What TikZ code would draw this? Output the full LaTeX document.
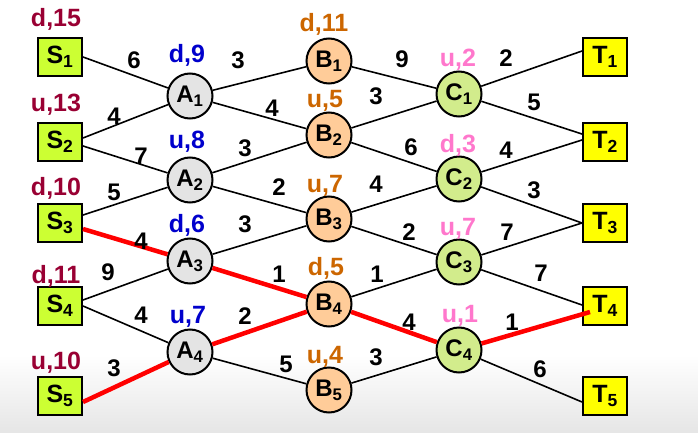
\documentclass[tikz,border=0pt]{standalone}
\usepackage{fontspec}
\setmainfont{Liberation Sans}
\usepackage{xcolor}

\definecolor{sgreen}{RGB}{204,255,51}
\definecolor{tyellow}{RGB}{255,255,0}
\definecolor{agray}{RGB}{228,228,228}
\definecolor{borange}{RGB}{255,204,153}
\definecolor{cgreen}{RGB}{210,236,140}
\definecolor{sred}{RGB}{153,0,51}
\definecolor{ablue}{RGB}{0,0,204}
\definecolor{bbrown}{RGB}{204,102,0}
\definecolor{cpink}{RGB}{255,119,204}
\definecolor{pathred}{RGB}{255,0,0}

\tikzset{
  box/.style={draw, line width=2pt, minimum width=44pt, minimum height=38pt,
    inner sep=0pt, font=\fontsize{25}{27}\selectfont\bfseries},
  sbox/.style={box, fill=sgreen},
  tbox/.style={box, fill=tyellow},
  circ/.style={circle, draw, line width=2pt, minimum size=45pt, inner sep=0pt,
    font=\fontsize{24}{26}\selectfont\bfseries},
  acirc/.style={circ, fill=agray},
  bcirc/.style={circ, fill=borange},
  ccirc/.style={circ, fill=cgreen},
  tag/.style={font=\fontsize{25}{27}\selectfont\bfseries, inner sep=0pt, anchor=base},
  wt/.style={font=\fontsize{24}{26}\selectfont\bfseries, inner sep=0pt},
  edge/.style={line width=1.6pt},
  hot/.style={line width=4.5pt, pathred}
}

\begin{document}
\begin{tikzpicture}[x=1pt, y=-1pt]
    \useasboundingbox (0,0) rectangle (698,433);
    % Background
    \shade[top color=white, bottom color=black!10] (0,355) rectangle (698,433);

    % Sources
    \node[sbox] (S1) at (60,57)  {S\textsubscript{1}};
    \node[sbox] (S2) at (60,142) {S\textsubscript{2}};
    \node[sbox] (S3) at (60,223) {S\textsubscript{3}};
    \node[sbox] (S4) at (60,306) {S\textsubscript{4}};
    \node[sbox] (S5) at (60,396) {S\textsubscript{5}};

    % Layer A
    \node[acirc] (A1) at (190,96)  {A\textsubscript{1}};
    \node[acirc] (A2) at (190,180) {A\textsubscript{2}};
    \node[acirc] (A3) at (190,261) {A\textsubscript{3}};
    \node[acirc] (A4) at (190,352) {A\textsubscript{4}};

    % Layer B
    \node[bcirc] (B1) at (329,61)  {B\textsubscript{1}};
    \node[bcirc] (B2) at (329,135) {B\textsubscript{2}};
    \node[bcirc] (B3) at (329,219) {B\textsubscript{3}};
    \node[bcirc] (B4) at (329,304) {B\textsubscript{4}};
    \node[bcirc] (B5) at (329,390) {B\textsubscript{5}};

    % Layer C
    \node[ccirc] (C1) at (459,94)  {C\textsubscript{1}};
    \node[ccirc] (C2) at (459,179) {C\textsubscript{2}};
    \node[ccirc] (C3) at (459,262) {C\textsubscript{3}};
    \node[ccirc] (C4) at (459,350) {C\textsubscript{4}};

    % Sinks
    \node[tbox] (T1) at (605,57)  {T\textsubscript{1}};
    \node[tbox] (T2) at (605,142) {T\textsubscript{2}};
    \node[tbox] (T3) at (605,223) {T\textsubscript{3}};
    \node[tbox] (T4) at (605,306) {T\textsubscript{4}};
    \node[tbox] (T5) at (605,396) {T\textsubscript{5}};

    % Tags
    \node[tag, sred] (tS1) at (56,27)  {d,15};
    \node[tag, sred] (tS2) at (56,112) {u,13};
    \node[tag, sred] (tS3) at (56,195) {d,10};
    \node[tag, sred] (tS4) at (56,283) {d,11};
    \node[tag, sred] (tS5) at (56,369) {u,10};
    \node[tag, ablue] (tA1) at (187,63)  {d,9};
    \node[tag, ablue] (tA2) at (187,148) {u,8};
    \node[tag, ablue] (tA3) at (187,232) {d,6};
    \node[tag, ablue] (tA4) at (188,323) {u,7};
    \node[tag, bbrown] (tB1) at (324,32)  {d,11};
    \node[tag, bbrown] (tB2) at (325,108) {u,5};
    \node[tag, bbrown] (tB3) at (325,192) {u,7};
    \node[tag, bbrown] (tB4) at (326,275) {d,5};
    \node[tag, bbrown] (tB5) at (325,363) {u,4};
    \node[tag, cpink] (tC1) at (458,67)  {u,2};
    \node[tag, cpink] (tC2) at (458,152) {d,3};
    \node[tag, cpink] (tC3) at (458,235) {u,7};
    \node[tag, cpink] (tC4) at (460,322) {u,1};

    % S to A
    \draw[edge] (S1.east) -- (A1);
    \draw[edge] ([yshift=4pt]S2.east) -- (A1);
    \draw[edge] ([yshift=-4pt]S2.east) -- (A2);
    \draw[edge] ([yshift=8pt]S3.east) -- (A2);
    \draw[hot]  ([yshift=-6pt]S3.east) -- (A3);
    \draw[edge] ([yshift=6pt]S4.east) -- (A3);
    \draw[edge] (S4.east) -- (A4);
    \draw[hot]  ([yshift=-6pt]S5.east) -- (A4);

    % A to B
    \draw[edge] (A1) -- (B1);
    \draw[edge] (A1) -- (B2);
    \draw[edge] (A2) -- (B2);
    \draw[edge] (A2) -- (B3);
    \draw[edge] (A3) -- (B3);
    \draw[hot]  (A3) -- (B4);
    \draw[hot]  (A4) -- (B4);
    \draw[edge] (A4) -- (B5);

    % B to C
    \draw[edge] (B1) -- (C1);
    \draw[edge] (B2) -- (C1);
    \draw[edge] (B2) -- (C2);
    \draw[edge] (B3) -- (C2);
    \draw[edge] (B3) -- (C3);
    \draw[edge] (B4) -- (C3);
    \draw[hot]  (B4) -- (C4);
    \draw[edge] (B5) -- (C4);

    % C to T
    \draw[edge] (C1) -- ([yshift=6pt]T1.west);
    \draw[edge] (C1) -- ([yshift=8pt]T2.west);
    \draw[edge] (C2) -- ([yshift=2pt]T2.west);
    \draw[edge] (C2) -- (T3.west);
    \draw[edge] (C3) -- (T3.west);
    \draw[edge] (C3) -- ([yshift=1pt]T4.west);
    \draw[hot]  (C4) -- ([xshift=8pt,yshift=-6pt]T4.west);
    \draw[edge] (C4) -- ([yshift=-6pt]T5.west);

    % Weights
    \node[wt] (w11) at (134,60)  {6};
    \node[wt] (w21) at (114,116) {4};
    \node[wt] (w22) at (141,156) {7};
    \node[wt] (w32) at (114,192) {5};
    \node[wt] (w33) at (141,241) {4};
    \node[wt] (w43) at (108,272) {9};
    \node[wt] (w44) at (141,315) {4};
    \node[wt] (w54) at (114,368) {3};

    \node[wt] (a11) at (238,60)  {3};
    \node[wt] (a12) at (272,108) {4};
    \node[wt] (a22) at (245,148) {3};
    \node[wt] (a23) at (279,187) {2};
    \node[wt] (a33) at (245,224) {3};
    \node[wt] (a34) at (279,274) {1};
    \node[wt] (a44) at (245,316) {2};
    \node[wt] (a45) at (286,364) {5};

    \node[wt] (b11) at (402,59)  {9};
    \node[wt] (b21) at (376,96)  {3};
    \node[wt] (b22) at (411,147) {6};
    \node[wt] (b32) at (376,184) {4};
    \node[wt] (b33) at (409,232) {2};
    \node[wt] (b43) at (377,274) {1};
    \node[wt] (b44) at (409,322) {4};
    \node[wt] (b54) at (376,357) {3};

    \node[wt] (c11) at (506,58)  {2};
    \node[wt] (c12) at (534,102) {5};
    \node[wt] (c22) at (506,150) {4};
    \node[wt] (c23) at (534,190) {3};
    \node[wt] (c33) at (507,232) {7};
    \node[wt] (c34) at (541,273) {7};
    \node[wt] (c44) at (512,322) {1};
    \node[wt] (c45) at (540,369) {6};
\end{tikzpicture}
\end{document}
